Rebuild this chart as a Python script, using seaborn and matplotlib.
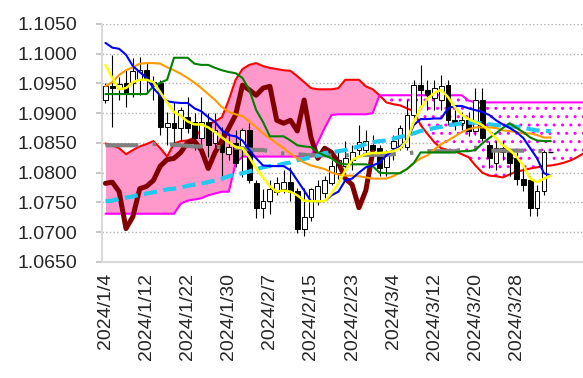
"""Ichimoku-style daily chart, EUR/USD 2024/1 - 2024/4."""

import numpy as np
import pandas as pd
import seaborn as sns
from matplotlib import pyplot as plt

# --- candles (one per business day from 2024/1/4) ---------------------------
opens = [1.0922, 1.0945, 1.0942, 1.0951, 1.0951, 1.0956, 1.0972, 1.0952, 1.0951, 1.0876,
         1.0883, 1.0875, 1.0893, 1.0885, 1.0859, 1.0885, 1.0849, 1.0854, 1.0832, 1.0849,
         1.0841, 1.0871, 1.0782, 1.0741, 1.0753, 1.0768, 1.0773, 1.0784, 1.0770, 1.0706,
         1.0726, 1.0753, 1.0765, 1.0782, 1.0799, 1.0812, 1.0821, 1.0838, 1.0838, 1.0846,
         1.0841, 1.0809, 1.0841, 1.0843, 1.0843, 1.0897, 1.0947, 1.0939, 1.0925, 1.0922,
         1.0947, 1.0888, 1.0883, 1.0888, 1.0870, 1.0922, 1.0846, 1.0817, 1.0841, 1.0834,
         1.0824, 1.0790, 1.0787, 1.0741, 1.0770]
closes = [1.0945, 1.0942, 1.0949, 1.0934, 1.0971, 1.0972, 1.0956, 1.0949, 1.0876, 1.0883,
          1.0875, 1.0905, 1.0875, 1.0859, 1.0885, 1.0846, 1.0871, 1.0834, 1.0843, 1.0817,
          1.0871, 1.0787, 1.0741, 1.0753, 1.0772, 1.0782, 1.0784, 1.0768, 1.0706, 1.0726,
          1.0773, 1.0777, 1.0787, 1.0811, 1.0822, 1.0824, 1.0834, 1.0851, 1.0853, 1.0838,
          1.0807, 1.0834, 1.0854, 1.0875, 1.0897, 1.0947, 1.0939, 1.0930, 1.0942, 1.0945,
          1.0888, 1.0883, 1.0888, 1.0870, 1.0922, 1.0859, 1.0824, 1.0841, 1.0834, 1.0817,
          1.0790, 1.0780, 1.0741, 1.0770, 1.0834]
highs = [1.0951, 1.0998, 1.0961, 1.0972, 1.0993, 1.0994, 1.0986, 1.0962, 1.0956, 1.0902,
         1.0918, 1.0910, 1.0927, 1.0900, 1.0927, 1.0900, 1.0900, 1.0876, 1.0866, 1.0871,
         1.0875, 1.0883, 1.0787, 1.0773, 1.0787, 1.0792, 1.0804, 1.0809, 1.0775, 1.0775,
         1.0775, 1.0787, 1.0795, 1.0821, 1.0838, 1.0854, 1.0846, 1.0880, 1.0871, 1.0863,
         1.0846, 1.0838, 1.0863, 1.0880, 1.0922, 1.0956, 1.0981, 1.0956, 1.0956, 1.0964,
         1.0956, 1.0905, 1.0902, 1.0902, 1.0942, 1.0942, 1.0854, 1.0854, 1.0854, 1.0838,
         1.0834, 1.0812, 1.0795, 1.0779, 1.0838]
lows = [1.0917, 1.0876, 1.0922, 1.0910, 1.0927, 1.0930, 1.0934, 1.0922, 1.0863, 1.0846,
        1.0849, 1.0854, 1.0866, 1.0838, 1.0843, 1.0826, 1.0832, 1.0795, 1.0821, 1.0809,
        1.0792, 1.0782, 1.0723, 1.0723, 1.0731, 1.0762, 1.0765, 1.0753, 1.0699, 1.0694,
        1.0719, 1.0745, 1.0757, 1.0779, 1.0790, 1.0804, 1.0804, 1.0829, 1.0829, 1.0824,
        1.0795, 1.0795, 1.0821, 1.0838, 1.0838, 1.0888, 1.0910, 1.0905, 1.0905, 1.0905,
        1.0880, 1.0871, 1.0871, 1.0861, 1.0863, 1.0854, 1.0807, 1.0804, 1.0821, 1.0795,
        1.0779, 1.0770, 1.0728, 1.0728, 1.0762]
last_price = 1.0834  # today's (flat) bar

# --- indicator lines --------------------------------------------------------
blue = [1.1018, 1.1010, 1.1008, 1.0998, 1.0979, 1.0969, 1.0959, 1.0942, 1.0929, 1.0920,
        1.0918, 1.0917, 1.0917, 1.0908, 1.0903, 1.0893, 1.0885, 1.0871, 1.0863, 1.0861,
        1.0854, 1.0838, 1.0824, 1.0812, 1.0811, 1.0811, 1.0811, 1.0804, 1.0787, 1.0770,
        1.0752, 1.0752, 1.0752, 1.0762, 1.0768, 1.0787, 1.0790, 1.0800, 1.0809, 1.0812,
        1.0817, 1.0829, 1.0838, 1.0844, 1.0854, 1.0880, 1.0890, 1.0890, 1.0891, 1.0891,
        1.0908, 1.0912, 1.0912, 1.0908, 1.0905, 1.0902, 1.0897, 1.0888, 1.0881, 1.0875,
        1.0868, 1.0858, 1.0841, 1.0824, 1.0799, 1.0795]
green = [1.0932, 1.0932, 1.0932, 1.0932, 1.0932, 1.0932, 1.0932, 1.0945, 1.0951, 1.0956,
         1.0993, 1.0993, 1.0993, 1.0983, 1.0981, 1.0981, 1.0976, 1.0972, 1.0969, 1.0967,
         1.0959, 1.0939, 1.0905, 1.0885, 1.0861, 1.0861, 1.0861, 1.0854, 1.0846, 1.0844,
         1.0843, 1.0834, 1.0829, 1.0824, 1.0816, 1.0814, 1.0814, 1.0814, 1.0814, 1.0811,
         1.0800, 1.0799, 1.0799, 1.0799, 1.0806, 1.0816, 1.0834, 1.0834, 1.0834, 1.0834,
         1.0834, 1.0834, 1.0836, 1.0836, 1.0838, 1.0849, 1.0858, 1.0866, 1.0875, 1.0883,
         1.0875, 1.0868, 1.0859, 1.0854, 1.0853, 1.0853]
yellow = [1.0981, 1.0959, 1.0940, 1.0942, 1.0952, 1.0956, 1.0956, 1.0952, 1.0935, 1.0918,
          1.0902, 1.0895, 1.0886, 1.0881, 1.0881, 1.0876, 1.0868, 1.0859, 1.0851, 1.0843,
          1.0841, 1.0826, 1.0807, 1.0792, 1.0777, 1.0768, 1.0770, 1.0768, 1.0762, 1.0753,
          1.0752, 1.0752, 1.0752, 1.0765, 1.0782, 1.0804, 1.0821, 1.0827, 1.0831, 1.0833,
          1.0833, 1.0834, 1.0836, 1.0841, 1.0854, 1.0885, 1.0908, 1.0924, 1.0934, 1.0939,
          1.0927, 1.0910, 1.0897, 1.0890, 1.0885, 1.0880, 1.0870, 1.0858, 1.0846, 1.0838,
          1.0827, 1.0811, 1.0790, 1.0784, 1.0790, 1.0795]
orange = [1.0945, 1.0952, 1.0964, 1.0972, 1.0977, 1.0983, 1.0984, 1.0984, 1.0983, 1.0977,
          1.0972, 1.0966, 1.0959, 1.0951, 1.0942, 1.0932, 1.0922, 1.0910, 1.0902, 1.0898,
          1.0895, 1.0886, 1.0876, 1.0866, 1.0858, 1.0849, 1.0841, 1.0832, 1.0824, 1.0817,
          1.0812, 1.0809, 1.0806, 1.0800, 1.0797, 1.0795, 1.0795, 1.0794, 1.0792, 1.0790,
          1.0790, 1.0790, 1.0794, 1.0800, 1.0806, 1.0816, 1.0824, 1.0829, 1.0839, 1.0848,
          1.0854, 1.0861, 1.0868, 1.0873, 1.0876, 1.0876, 1.0876, 1.0875, 1.0871, 1.0870,
          1.0868, 1.0866, 1.0866, 1.0863, 1.0859, 1.0859]
cyan = [1.0752, 1.0753, 1.0756, 1.0758, 1.0760, 1.0763, 1.0765, 1.0767, 1.0769, 1.0772,
        1.0773, 1.0775, 1.0778, 1.0780, 1.0782, 1.0784, 1.0787, 1.0790, 1.0794, 1.0797,
        1.0799, 1.0802, 1.0806, 1.0809, 1.0811, 1.0812, 1.0815, 1.0817, 1.0821, 1.0823,
        1.0826, 1.0829, 1.0833, 1.0834, 1.0836, 1.0838, 1.0841, 1.0844, 1.0848, 1.0851,
        1.0853, 1.0854, 1.0857, 1.0860, 1.0863, 1.0866, 1.0870, 1.0872, 1.0875, 1.0877,
        1.0880, 1.0881, 1.0883, 1.0884, 1.0884, 1.0883, 1.0881, 1.0880, 1.0879, 1.0878,
        1.0877, 1.0876, 1.0873, 1.0871, 1.0870, 1.0870]
gray = [1.0846, 1.0846, 1.0846, 1.0846, 1.0846, 1.0846, 1.0847, 1.0848, 1.0848, 1.0848,
        1.0847, 1.0846, 1.0845, 1.0844, 1.0844, 1.0843, 1.0843, 1.0843, 1.0843, 1.0842,
        1.0841, 1.0839, 1.0838, 1.0838, 1.0836, 1.0834, 1.0832, 1.0831, 1.0831, 1.0830,
        1.0829, 1.0829, 1.0829, 1.0829, 1.0829, 1.0829, 1.0830, 1.0830, 1.0830, 1.0830,
        1.0830, 1.0830, 1.0831, 1.0832, 1.0832, 1.0834, 1.0835, 1.0836, 1.0836, 1.0836,
        1.0836, 1.0836, 1.0838, 1.0840, 1.0842, 1.0839, 1.0837, 1.0837, 1.0837, 1.0837,
        1.0837, 1.0837, 1.0836, 1.0836, 1.0836]
# leading spans (run 70 days, past the last bar)
span_a = [1.0849, 1.0846, 1.0841, 1.0831, 1.0838, 1.0844, 1.0848, 1.0853, 1.0841, 1.0827,
          1.0849, 1.0853, 1.0854, 1.0859, 1.0873, 1.0881, 1.0886, 1.0893, 1.0922, 1.0956,
          1.0974, 1.0981, 1.0984, 1.0979, 1.0976, 1.0974, 1.0972, 1.0971, 1.0962, 1.0952,
          1.0942, 1.0940, 1.0940, 1.0940, 1.0942, 1.0956, 1.0956, 1.0956, 1.0945, 1.0940,
          1.0930, 1.0918, 1.0915, 1.0913, 1.0908, 1.0903, 1.0880, 1.0865, 1.0851, 1.0841,
          1.0838, 1.0836, 1.0831, 1.0826, 1.0812, 1.0800, 1.0795, 1.0794, 1.0792, 1.0797,
          1.0802, 1.0804, 1.0807, 1.0809, 1.0811, 1.0812, 1.0814, 1.0817, 1.0821, 1.0827,
          1.0834]
span_b = [1.0731, 1.0731, 1.0731, 1.0731, 1.0731, 1.0731, 1.0731, 1.0731, 1.0731, 1.0731,
          1.0731, 1.0748, 1.0753, 1.0755, 1.0757, 1.0762, 1.0765, 1.0768, 1.0768, 1.0816,
          1.0827, 1.0827, 1.0827, 1.0827, 1.0827, 1.0827, 1.0827, 1.0827, 1.0827, 1.0827,
          1.0827, 1.0851, 1.0875, 1.0897, 1.0898, 1.0898, 1.0898, 1.0898, 1.0898, 1.0900,
          1.0930, 1.0930, 1.0930, 1.0930, 1.0930, 1.0930, 1.0930, 1.0930, 1.0930, 1.0930,
          1.0930, 1.0930, 1.0930, 1.0921, 1.0918, 1.0918, 1.0918, 1.0918, 1.0918, 1.0918,
          1.0918, 1.0918, 1.0918, 1.0918, 1.0918, 1.0918, 1.0918, 1.0918, 1.0918, 1.0918,
          1.0918]

LAG = 25  # chikou span shift (26 days counting today)

dates = pd.bdate_range("2024-01-04", periods=len(closes))
tick_idx = list(range(0, len(closes), 6))
tick_labels = [f"{d.year}/{d.month}/{d.day}" for d in dates[tick_idx]]

sns.set_theme(style="white")
plt.rcParams["font.family"] = ["Liberation Sans", "DejaVu Sans"]

fig = plt.figure(figsize=(5.83, 3.78), dpi=100)
ax = fig.add_axes([0.175, 0.307, 0.825, 0.630])

# cloud
xc = np.arange(len(span_a))
a = np.array(span_a)
b = np.array(span_b)
ax.fill_between(xc, a, b, where=a >= b, interpolate=True, color="#FF99CC", lw=0, zorder=1)
ax.fill_between(xc, a, b, where=b > a, interpolate=True, facecolor="white",
                edgecolor="#FF00FF", hatch="..", lw=0, zorder=1)
sns.lineplot(x=xc, y=a, ax=ax, color="#FF0000", lw=1.5, zorder=2)
sns.lineplot(x=xc, y=b, ax=ax, color="#FF00FF", lw=1.5, zorder=2)

# candles
xs = np.arange(len(closes))
o = np.array(opens)
c = np.array(closes)
ax.vlines(xs, lows, highs, color="black", lw=0.8, zorder=2.5)
ax.bar(xs, np.abs(c - o), bottom=np.minimum(o, c), width=0.7,
       color=np.where(c >= o, "white", "black"), edgecolor="black", lw=0.7, zorder=3)
ax.hlines(last_price, len(closes) - 0.35, len(closes) + 0.35, color="black", lw=1, zorder=3)

# chikou span
sns.lineplot(x=xs[:len(closes) - LAG], y=closes[LAG:], ax=ax, color="#800000", lw=3.6, zorder=3.5)

xl = np.arange(len(blue))
sns.lineplot(x=np.arange(len(gray)), y=gray, ax=ax, color="#808080", lw=3, zorder=4)
ax.lines[-1].set_dashes((7.9, 3.4, 0.8, 3.4))
sns.lineplot(x=xl, y=cyan, ax=ax, color="#22C8F0", lw=3, zorder=4)
ax.lines[-1].set_dashes((3.2, 1.5))
sns.lineplot(x=xl, y=orange, ax=ax, color="#FF9900", lw=1.5, zorder=5)
sns.lineplot(x=xl, y=green, ax=ax, color="#008000", lw=1.5, zorder=5)
sns.lineplot(x=xl, y=blue, ax=ax, color="#0000FF", lw=1.5, zorder=5)
sns.lineplot(x=xl, y=yellow, ax=ax, color="#FFFF00", lw=1.8, zorder=5)

ax.set_xlim(-0.5, 69.7)
ax.set_ylim(1.0650, 1.1050)
ax.set_yticks(np.arange(1.0650, 1.10501, 0.005))
ax.set_yticklabels([f"{v:.4f}" for v in np.arange(1.0650, 1.10501, 0.005)])
ax.set_xticks(tick_idx)
ax.set_xticklabels(tick_labels, rotation=90)
ax.tick_params(axis="y", length=4, color="#bfbfbf", pad=14, labelsize=14, left=True)
ax.tick_params(axis="x", length=0, pad=8, labelsize=14)
ax.yaxis.grid(True, linestyle=":", color="#b0b0b0", lw=1)
ax.set_axisbelow(True)
for side in ("top", "right"):
    ax.spines[side].set_visible(False)
for side in ("left", "bottom"):
    ax.spines[side].set_color("#d9d9d9")
    ax.spines[side].set_linewidth(1.5)

fig.savefig("out.png", dpi=100)
